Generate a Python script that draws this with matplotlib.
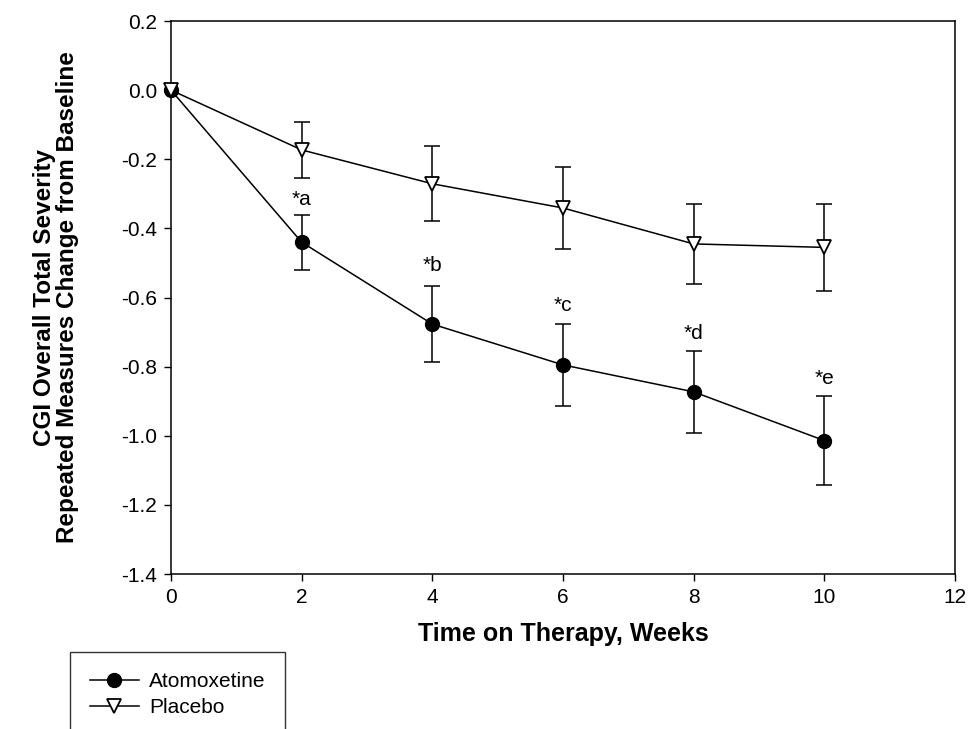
import matplotlib
matplotlib.use("Agg")
import matplotlib.pyplot as plt

plt.rcParams['font.family'] = ['Liberation Sans', 'DejaVu Sans']

weeks = [0, 2, 4, 6, 8, 10]
atomoxetine = [0.0, -0.44, -0.677, -0.795, -0.873, -1.014]
atomoxetine_err = [0.0, 0.079, 0.109, 0.118, 0.118, 0.128]
placebo = [0.0, -0.173, -0.271, -0.341, -0.445, -0.455]
placebo_err = [0.0, 0.080, 0.109, 0.118, 0.115, 0.125]
sig_labels = ['*a', '*b', '*c', '*d', '*e']
sig_y = [-0.316, -0.508, -0.623, -0.705, -0.835]
xticks = [0, 2, 4, 6, 8, 10, 12]
yticks = [0.2, 0.0, -0.2, -0.4, -0.6, -0.8, -1.0, -1.2, -1.4]

fig = plt.figure(figsize=(9.69, 7.29), dpi=100)
ax = fig.add_axes([171/969, 1-574/729, (955-171)/969, (574-21)/729])

ms = 10
ax.errorbar(weeks[1:], atomoxetine[1:], yerr=atomoxetine_err[1:], fmt='none',
            ecolor='black', elinewidth=1.1, capsize=6, capthick=1.1, zorder=2)
ax.errorbar(weeks[1:], placebo[1:], yerr=placebo_err[1:], fmt='none',
            ecolor='black', elinewidth=1.1, capsize=6, capthick=1.1, zorder=2)
l1, = ax.plot(weeks, atomoxetine, '-o', color='black', lw=1.1, ms=ms,
              mfc='black', mec='black', zorder=5, label='Atomoxetine', clip_on=False)
l2, = ax.plot(weeks, placebo, '-v', color='black', lw=1.1, ms=ms,
              mfc='white', mec='black', mew=1.3, zorder=6, label='Placebo', clip_on=False)

for wx, lab, yy in zip(weeks[1:], sig_labels, sig_y):
    ax.text(wx, yy, lab, ha='center', va='center', fontsize=15)

ax.set_xlim(0, 12)
ax.set_ylim(-1.4, 0.2)
ax.set_xticks(xticks)
ax.set_xticklabels([str(t) for t in xticks])
ax.set_yticks(yticks)
ax.set_yticklabels([f"{t:.1f}" for t in yticks])
ax.tick_params(direction='out', length=5, width=1, labelsize=15, pad=5)
for s in ax.spines.values():
    s.set_linewidth(1.1)
    s.set_zorder(1)

ax.set_xlabel('Time on Therapy, Weeks', fontsize=18, fontweight='bold', labelpad=11)
ax.set_ylabel('CGI Overall Total Severity\nRepeated Measures Change from Baseline',
              fontsize=17.5, fontweight='bold', labelpad=30, linespacing=1.0)

leg = fig.legend(handles=[l1, l2], loc='upper left',
                 bbox_to_anchor=(70/969, 1-652/729), fontsize=15,
                 frameon=True, fancybox=False, edgecolor='black',
                 handlelength=2.35, borderpad=0.95, labelspacing=0.35,
                 handletextpad=0.5, borderaxespad=0)
leg.get_frame().set_linewidth(1.0)

fig.savefig('out.png', dpi=100)
